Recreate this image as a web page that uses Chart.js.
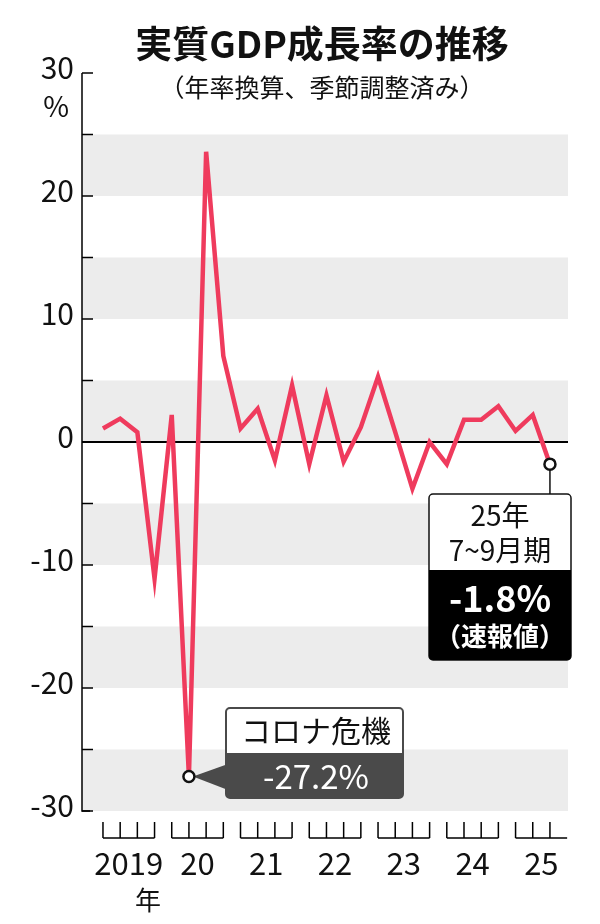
<!DOCTYPE html>
<html><head><meta charset="utf-8">
<script src="https://cdn.jsdelivr.net/npm/chart.js@4"></script>
<style>html,body{margin:0;padding:0;background:#fff}#w{width:600px;height:924px;position:relative}</style>
</head><body><div id="w"><canvas id="c"></canvas></div>
<script>
const years = ['2019','20','21','22','23','24','25'];
const quartersPerYear = [4,4,4,4,4,4,3];
const growth = [1.1,1.9,0.8,-11.1,2.2,-27.2,23.6,7.0,1.1,2.7,-1.5,4.6,-1.8,3.8,-1.6,1.2,5.3,0.8,-3.8,0.0,-1.8,1.8,1.8,2.9,0.9,2.2,-1.8];
const yTicks = [30,20,10,0,-10,-20,-30];
const grayBands = [[20,25],[10,15],[0,5],[-10,-5],[-20,-15],[-30,-25]];
const FONT = '"Noto Sans CJK JP","Noto Sans",sans-serif';

const deco = {
  id:'deco',
  beforeDatasetsDraw(ch){
    const {ctx, chartArea:a, scales:{x,y}} = ch;
    ctx.save();
    ctx.fillStyle='#ececec';
    grayBands.forEach(([lo,hi])=>{const t=y.getPixelForValue(hi),b=y.getPixelForValue(lo);ctx.fillRect(a.left,t,a.right-a.left,b-t);});
    ctx.strokeStyle='#000';ctx.lineWidth=1.5;
    ctx.beginPath();ctx.moveTo(a.left,a.top);ctx.lineTo(a.left,a.bottom);ctx.lineTo(a.left+8,a.bottom);ctx.stroke();
    for(let v=-30;v<=30;v+=5){const py=y.getPixelForValue(v);ctx.beginPath();ctx.moveTo(a.left,py);ctx.lineTo(a.left+11,py);ctx.stroke();}
    ctx.lineWidth=2;const z=y.getPixelForValue(0);ctx.beginPath();ctx.moveTo(a.left,z);ctx.lineTo(a.right,z);ctx.stroke();
    ctx.fillStyle='#111';ctx.font='30px '+FONT;ctx.textAlign='right';ctx.textBaseline='middle';
    yTicks.forEach(v=>ctx.fillText(String(v),74,y.getPixelForValue(v)-5));
    ctx.font='28px '+FONT;ctx.fillText('%',69,106);
    let idx=0;ctx.lineWidth=1.5;ctx.textAlign='center';ctx.textBaseline='alphabetic';ctx.font='31px '+FONT;
    years.forEach((yr,i)=>{
      const n=quartersPerYear[i];const x0=x.getPixelForValue(idx);const xl=x.getPixelForValue(idx+n-1);
      const xe = n<4 ? x.getPixelForValue(idx+4-1) : xl;
      ctx.beginPath();
      for(let k=0;k<n;k++){const px=x.getPixelForValue(idx+k);ctx.moveTo(px,822);ctx.lineTo(px,838);}
      ctx.moveTo(x0,838);ctx.lineTo(xe,838);ctx.stroke();
      ctx.fillText(yr,(x0+x.getPixelForValue(idx+3))/2,875);
      idx+=n;
    });
    ctx.font='26px '+FONT;ctx.fillText('年',148,910);
    ctx.restore();
  },
  afterDatasetsDraw(ch){
    const {ctx, scales:{x,y}} = ch;
    ctx.save();
    const p1={x:x.getPixelForValue(5),y:y.getPixelForValue(-27.2)};
    const p2={x:x.getPixelForValue(26),y:y.getPixelForValue(-1.8)};
    ctx.fillStyle='#4a4a4a';
    ctx.beginPath();ctx.moveTo(p1.x+4,p1.y);ctx.lineTo(228,764);ctx.lineTo(228,790);ctx.closePath();ctx.fill();
    ctx.strokeStyle='#4a4a4a';ctx.lineWidth=2;
    ctx.beginPath();ctx.roundRect(226,708,177,90,4);ctx.fillStyle='#fff';ctx.fill();ctx.stroke();
    ctx.fillStyle='#4a4a4a';ctx.beginPath();ctx.roundRect(226,753,177,45,[0,0,4,4]);ctx.fill();
    ctx.fillStyle='#111';ctx.textAlign='center';ctx.textBaseline='middle';
    ctx.font='30px '+FONT;ctx.fillText('コロナ危機',316,731);
    ctx.fillStyle='#fff';ctx.font='33px '+FONT;ctx.fillText('-27.2%',316,776);
    ctx.strokeStyle='#111';ctx.lineWidth=1.5;
    ctx.beginPath();ctx.moveTo(p2.x,p2.y);ctx.lineTo(p2.x,494);ctx.stroke();
    ctx.beginPath();ctx.roundRect(429,494,142,166,4);ctx.fillStyle='#fff';ctx.fill();ctx.stroke();
    ctx.fillStyle='#000';ctx.beginPath();ctx.roundRect(429,570,142,90,[0,0,4,4]);ctx.fill();
    ctx.fillStyle='#111';ctx.font='28px '+FONT;
    ctx.fillText('25年',500,515);ctx.fillText('7~9月期',500,550);
    ctx.fillStyle='#fff';ctx.font='bold 36px '+FONT;ctx.fillText('-1.8%',500,598);
    ctx.font='bold 26px '+FONT;ctx.fillText('（速報値）',500,636);
    [p1,p2].forEach(p=>{ctx.beginPath();ctx.arc(p.x,p.y,5.5,0,Math.PI*2);ctx.fillStyle='#fff';ctx.fill();ctx.strokeStyle='#111';ctx.lineWidth=2.5;ctx.stroke();});
    ctx.fillStyle='#111';ctx.font='bold 37px '+FONT;ctx.fillText('実質GDP成長率の推移',322,44);
    ctx.font='25px '+FONT;ctx.fillText('（年率換算、季節調整済み）',322,87);
    ctx.restore();
  }
};

new Chart(document.getElementById('c'),{
  type:'line',
  data:{datasets:[{data:growth.map((v,i)=>({x:i,y:v})),borderColor:'#ef3b5d',borderWidth:4.5,pointRadius:0,tension:0,borderJoinStyle:'miter'}]},
  options:{responsive:true,maintainAspectRatio:false,animation:false,
    layout:{padding:{left:82,right:32,top:73,bottom:113}},
    plugins:{legend:{display:false},tooltip:{enabled:false}},
    scales:{x:{type:'linear',min:-1.22,max:27.05,display:false},y:{min:-30,max:30,display:false}}},
  plugins:[deco]
});
</script></body></html>
